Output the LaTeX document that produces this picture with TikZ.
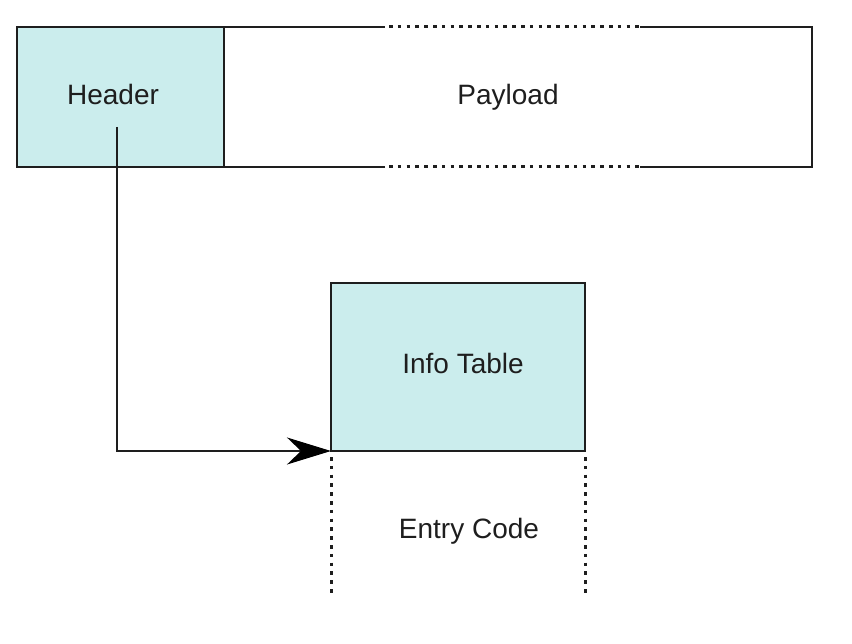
\documentclass[tikz,border=0pt]{standalone}
\usepackage{fontspec}
\setmainfont{Liberation Sans}
\usetikzlibrary{arrows.meta}
\definecolor{boxfill}{HTML}{CBEDED}
\definecolor{inkc}{HTML}{1E1E1E}
\begin{document}
\begin{tikzpicture}[x=1pt,y=-1pt,
  lbl/.style={font=\fontsize{28}{32}\selectfont, text=inkc, anchor=base},
  solidline/.style={draw=inkc, line width=2pt},
  dotline/.style={draw=inkc, line width=3pt, dash pattern=on 3.5pt off 5.3pt},
  cellbox/.style={draw=inkc, line width=2pt, fill=boxfill}]
\useasboundingbox (0,0) rectangle (852,644);
% Header
\path[cellbox] (17,27) rectangle (224,167);
\node[lbl] (hdr) at (113,105) {Header};
% Payload
\coordinate (pTL) at (224,27);
\coordinate (pTR) at (812,27);
\coordinate (pBL) at (224,167);
\coordinate (pBR) at (812,167);
\draw[solidline] (pTL) -- (385,27);
\draw[dotline] (389,27) -- (640,27);
\draw[solidline] (640,27) -- (pTR) -- (pBR) -- (640,167);
\draw[dotline] (389,167) -- (640,167);
\draw[solidline] (385,167) -- (pBL);
\node[lbl] (pay) at (508,105) {Payload};
% Info table
\path[cellbox] (331,283) rectangle (585,451);
\node[lbl] (info) at (463,374) {Info Table};
\coordinate (itl) at (331,451);
\coordinate (itr) at (585,451);
\draw[dotline] (331,457) -- (331,597);
\draw[dotline] (585,457) -- (585,597);
\node[lbl] (entry) at (469,538) {Entry Code};
% Arrow
\coordinate (src) at (117,127);
\draw[draw=inkc, line width=2pt, -{Stealth[length=44pt,width=27pt,inset=14pt,fill=black,color=black]}]
  (src) |- (itl);
\end{tikzpicture}
\end{document}
